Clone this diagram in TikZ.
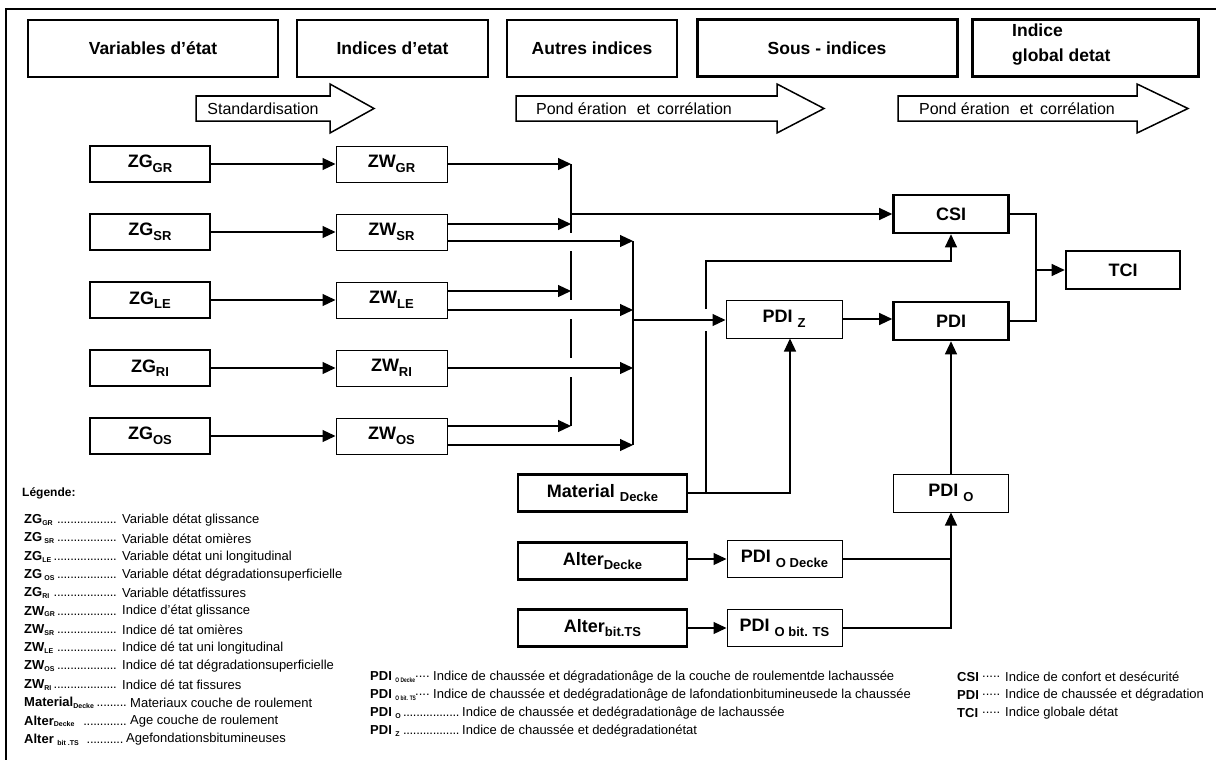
\documentclass[tikz,border=0pt]{standalone}
\usepackage{fontspec}
\usepackage{graphicx}
\setmainfont{Liberation Sans}
\usetikzlibrary{arrows.meta,calc}
\newcommand\fs[1]{\fontsize{#1}{#1}\selectfont}
\newcommand\bsub[1]{\raisebox{-4.5pt}{\fs{13}#1}}
\newcommand\lsub[1]{\raisebox{-1.8pt}{\fs{7}\bfseries #1}}
\newcommand\msub[1]{\raisebox{-1.8pt}{\scalebox{0.75}[1]{\fs{6.5}\bfseries #1}}}
\newcommand\legdots{\leaders\hbox to 3.3pt{\hss.\hss}\hfill}
\begin{document}
\begin{tikzpicture}[x=1pt,y=-1pt,
 every node/.style={inner sep=0pt},
 ln/.style={line width=1.2pt},
 arr/.style={ln,-{Triangle[length=13pt,width=12pt]}},
 bx/.style={draw, font=\bfseries\fs{18}, align=center},
 bthin/.style={bx, line width=1pt},
 bthick/.style={bx, line width=2.6pt},
 hdr/.style={draw, line width=1.6pt, minimum height=57pt, font=\bfseries\fs{17.5}},
 hdrk/.style={hdr, line width=3pt},
 zg/.style={bthick, minimum width=120pt, minimum height=36pt},
 zw/.style={bthin, minimum width=111pt, minimum height=36pt},
 mid/.style={minimum width=115pt, minimum height=38pt},
 lft/.style={minimum width=169pt, minimum height=37pt},
 barrow/.style={draw, line width=1.5pt, fill=white},
 atext/.style={font=\fs{16}},
 legk/.style={anchor=west, font=\fs{13}},
]
\useasboundingbox (0,0) rectangle (1216,760);
\draw[line width=1.2pt] (6,760) -- (6,9) -- (1216,9);

% header
\node[hdr, minimum width=250pt] (h1) at (153,48.5) {Variables d’état};
\node[hdr, minimum width=191pt] (h2) at (392.5,48.5) {Indices d’etat};
\node[hdr, minimum width=170pt] (h3) at (592,48.5) {Autres indices};
\node[hdrk, minimum width=260pt] (h4) at (827,48.5) {Sous - indices};
\node[hdrk, minimum width=226pt] (h5) at (1085,48.5) {};
\node[anchor=west, align=left, font=\bfseries\fontsize{17.5}{25}\selectfont] (h5t) at (1012,45) {Indice\\global detat};

% block arrows
\draw[barrow] (196,96) -- (330,96) -- (330,84) -- (374,108.5) -- (330,133) -- (330,121) -- (196,121) -- cycle;
\node[atext] (a1) at (263,108.5) {Standardisation};
\draw[barrow] (516,96) -- (777,96) -- (777,84) -- (824,108.5) -- (777,133) -- (777,121) -- (516,121) -- cycle;
\node[atext] (a2) at (634,108.5) {Pond ération\hspace{10pt}et\hspace{7pt}corrélation};
\draw[barrow] (898,96) -- (1137,96) -- (1137,84) -- (1188,108.5) -- (1137,133) -- (1137,121) -- (898,121) -- cycle;
\node[atext] (a3) at (1017,108.5) {Pond ération\hspace{10pt}et\hspace{7pt}corrélation};

% ZG and ZW
\node[zg] (zggr) at (150,164) {ZG\bsub{GR}};
\node[zg] (zgsr) at (150,232) {ZG\bsub{SR}};
\node[zg] (zgle) at (150,300) {ZG\bsub{LE}};
\node[zg] (zgri) at (150,368) {ZG\bsub{RI}};
\node[zg] (zgos) at (150,436) {ZG\bsub{OS}};
\node[zw] (zwgr) at (391.5,164) {ZW\bsub{GR}};
\node[zw] (zwsr) at (391.5,232) {ZW\bsub{SR}};
\node[zw] (zwle) at (391.5,300) {ZW\bsub{LE}};
\node[zw] (zwri) at (391.5,368) {ZW\bsub{RI}};
\node[zw] (zwos) at (391.5,436) {ZW\bsub{OS}};
\foreach \a/\b in {zggr/zwgr,zgsr/zwsr,zgle/zwle,zgri/zwri,zgos/zwos}
  \draw[arr] (\a.east) -- (\b.west);

% right part nodes
\node[bthick, mid] (csi) at (951,214) {CSI};
\node[bthick, mid] (pdi) at (951,321) {PDI};
\node[bthin, minimum width=116pt, minimum height=38pt] (pdiz) at (784,319) {PDI \bsub{Z}};
\node[bthick, minimum width=114pt, minimum height=38pt] (tci) at (1123,270) {TCI};
\node[bthick, lft] (mat) at (602.5,493) {Material \bsub{Decke}};
\node[bthick, lft] (altd) at (602.5,561) {Alter\bsub{Decke}};
\node[bthick, lft] (altb) at (602.5,628) {Alter\bsub{bit.TS}};
\node[bthin, mid] (pdio) at (951,493) {PDI \bsub{O}};
\node[bthin, mid, minimum height=37pt] (pdiod) at (784.5,559) {PDI \bsub{O Decke}};
\node[bthin, mid, minimum height=37pt] (pdiob) at (784.5,628) {PDI \bsub{O bit. TS}};

% junction coordinates
\coordinate (j1a) at (571,164);
\coordinate (j1b) at (571,224);
\coordinate (j1c) at (571,291);
\coordinate (j1d) at (571,426);
\coordinate (j1o) at (571,214);
\coordinate (j2a) at (633,241);
\coordinate (j2b) at (633,310);
\coordinate (j2c) at (633,368);
\coordinate (j2d) at (633,445);
\coordinate (j2o) at (633,320);
\coordinate (jt) at (1036,270);
\coordinate (vm) at (706,493);
\coordinate (vt) at (706,261);

% ZW outputs
\draw[arr] (zwgr.east) -- (j1a);
\draw[arr] ($(zwsr.east)+(0,-8)$) -- (j1b);
\draw[arr] ($(zwsr.east)+(0,9)$) -- (j2a);
\draw[arr] ($(zwle.east)+(0,-9)$) -- (j1c);
\draw[arr] ($(zwle.east)+(0,10)$) -- (j2b);
\draw[arr] (zwri.east) -- (j2c);
\draw[arr] ($(zwos.east)+(0,-10)$) -- (j1d);
\draw[arr] ($(zwos.east)+(0,9)$) -- (j2d);

% bar 1 with gaps
\draw[ln] (j1a) -- (571,233) (571,251) -- (571,300) (571,319) -- (571,358) (571,377) -- (j1d);
\draw[arr] (j1o) -- (j1o -| csi.west);
% bar 2
\draw[ln] (j2a) -- (j2d);
\draw[arr] (j2o) -- (j2o -| pdiz.west);

% material
\draw[arr] (mat.east) -| ($(pdiz.south)+(6,0)$);
\draw[ln] (vm) -- (706,331);
\draw[arr] (706,309) -- (vt) -| (csi.south);

\draw[arr] (pdiz.east) -- (pdiz.east -| pdi.west);
\draw[ln] (csi.east) -| (jt);
\draw[ln] (pdi.east) -| (jt);
\draw[arr] (jt) -- (tci.west);
\draw[arr] (pdio.north) -- (pdi.south);
\draw[arr] (altd.east |- pdiod.west) -- (pdiod.west);
\draw[arr] (altb.east) -- (pdiob.west);
\draw[ln] (pdiod.east) -- (pdiod.east -| pdio.south);
\draw[arr] (pdiob.east) -| (pdio.south);

% legend
\node[anchor=west, font=\bfseries\fs{12}] (leg) at (22,493) {Légende:};
\node[legk] (l1k) at (24,520.0) {\makebox[95pt][l]{\textbf{ZG}\lsub{GR}\,\legdots}};
\node[legk] (l1) at (122,520.0) {Variable détat glissance};
\node[legk] (l2k) at (24,538.3) {\makebox[95pt][l]{\textbf{ZG}\,\lsub{SR}\,\legdots}};
\node[legk] (l2) at (122,538.3) {Variable détat omières};
\node[legk] (l3k) at (24,556.6) {\makebox[95pt][l]{\textbf{ZG}\lsub{LE}\,\legdots}};
\node[legk] (l3) at (122,556.6) {Variable détat uni longitudinal};
\node[legk] (l4k) at (24,574.9) {\makebox[95pt][l]{\textbf{ZG}\,\lsub{OS}\,\legdots}};
\node[legk] (l4) at (122,574.9) {Variable détat dégradationsuperficielle};
\node[legk] (l5k) at (24,593.2) {\makebox[95pt][l]{\textbf{ZG}\lsub{RI}\,\legdots}};
\node[legk] (l5) at (122,593.2) {Variable détatfissures};
\node[legk] (l6k) at (24,611.5) {\makebox[95pt][l]{\textbf{ZW}\lsub{GR}\,\legdots}};
\node[legk] (l6) at (122,611.5) {Indice d’état glissance};
\node[legk] (l7k) at (24,629.8) {\makebox[95pt][l]{\textbf{ZW}\lsub{SR}\,\legdots}};
\node[legk] (l7) at (122,629.8) {Indice dé tat omières};
\node[legk] (l8k) at (24,648.1) {\makebox[95pt][l]{\textbf{ZW}\lsub{LE}\,\legdots}};
\node[legk] (l8) at (122,648.1) {Indice dé tat uni longitudinal};
\node[legk] (l9k) at (24,666.4) {\makebox[95pt][l]{\textbf{ZW}\lsub{OS}\,\legdots}};
\node[legk] (l9) at (122,666.4) {Indice dé tat dégradationsuperficielle};
\node[legk] (l10k) at (24,684.7) {\makebox[95pt][l]{\textbf{ZW}\lsub{RI}\legdots}};
\node[legk] (l10) at (122,684.7) {Indice dé tat fissures};
\node[legk] (l11k) at (24,703.0) {\makebox[103pt][l]{\textbf{Material}\lsub{Decke}\,\legdots}};
\node[legk] (l11) at (130,703.0) {Materiaux couche de roulement};
\node[legk] (l12k) at (24,721.3) {\makebox[103pt][l]{\textbf{Alter}\lsub{Decke}\ \ \legdots}};
\node[legk] (l12) at (130,721.3) {Age couche de roulement};
\node[legk] (l13k) at (24,739.6) {\makebox[99pt][l]{\textbf{Alter} \lsub{bit .TS}\ \ \legdots}};
\node[legk] (l13) at (126,739.6) {Agefondationsbitumineuses};

% middle legend
\node[legk] (m1k) at (370,677) {\textbf{PDI} \msub{O Decke}};
\node[legk] (m1d) at (415,677) {....};
\node[legk] (m1) at (433,677) {Indice de chaussée et dégradationâge de la couche de roulementde lachaussée};
\node[legk] (m2k) at (370,695) {\textbf{PDI} \msub{O bit. TS}};
\node[legk] (m2d) at (415,695) {....};
\node[legk] (m2) at (433,695) {Indice de chaussée et dedégradationâge de lafondationbitumineusede la chaussée};
\node[legk] (m3k) at (370,713) {\makebox[92pt][l]{\textbf{PDI} \lsub{O}\legdots}};
\node[legk] (m3) at (462,713) {Indice de chaussée et dedégradationâge de lachaussée};
\node[legk] (m4k) at (370,731) {\makebox[92pt][l]{\textbf{PDI} \lsub{Z}\,\legdots}};
\node[legk] (m4) at (462,731) {Indice de chaussée et dedégradationétat};

% right legend
\node[legk] (r1k) at (957,677) {\textbf{CSI}};
\node[legk] (r1d) at (982,677) {.....};
\node[legk] (r1) at (1005,677) {Indice de confort et desécurité};
\node[legk] (r2k) at (957,695) {\textbf{PDI}};
\node[legk] (r2d) at (982,695) {.....};
\node[legk] (r2) at (1005,695) {Indice de chaussée et dégradation};
\node[legk] (r3k) at (957,713) {\textbf{TCI}};
\node[legk] (r3d) at (982,713) {.....};
\node[legk] (r3) at (1005,713) {Indice globale détat};
\end{tikzpicture}
\end{document}
